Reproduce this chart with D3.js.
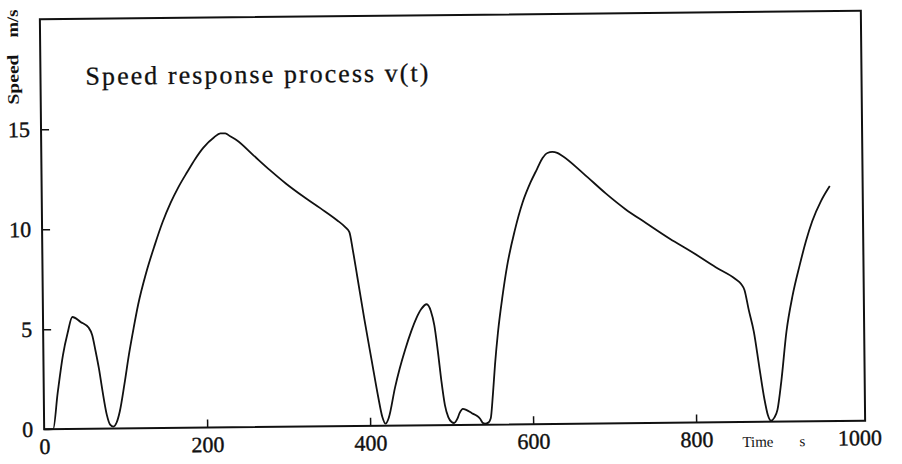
<!DOCTYPE html>
<html>
<head>
<meta charset="utf-8">
<script src="https://cdn.jsdelivr.net/npm/d3@7"></script>
<style>
body{margin:0;background:#fff}
text{font-family:"Liberation Serif","Times New Roman",serif;fill:#111}
</style>
</head>
<body>
<script>
// time (s) and speed (m/s)
var timeS=[0,11,17,24,30,36,46,56,60,64,68,72,77,81,85,89,93,99,105,111,117,127,138,148,158,168,179,189,199,212,220,226,232,240,260,280,300,321,342,362,372,377,381,386,394,403,410,415,419,423,431,437,444,452,458,464,471,476,480,484,488,492,496,500,503,
  507,510,514,518,525,531,535,538,541,545,548,551,554,558,564,570,580,590,600,608,615,621,627,633,639,665,692,716,741,770,798,826,850,857,861,866,872,878,884,888,892,896,900,905,912,920,929,937,945,956,967]
var speedMs=[0,0,1.8,3.7,4.8,5.6,5.35,5.05,4.7,3.9,3.0,1.9,0.7,0.2,0.1,0.3,0.85,2.2,3.7,5.0,6.2,7.75,9.15,10.3,11.25,12.05,12.8,13.45,14.0,14.5,14.7,14.7,14.55,14.35,13.6,12.85,12.15,11.5,10.9,10.3,9.95,9.7,8.8,7.5,5.4,3.2,1.5,0.45,0.1,0.4,1.9,2.85,3.8,4.75,5.35,5.8,6.05,5.7,5.0,3.7,2.2,1.0,0.4,0.15,0.1,
  0.3,0.6,0.8,0.75,0.58,0.45,0.3,0.1,0.05,0.1,0.3,1.5,3.0,4.6,6.4,7.9,9.7,11.1,12.1,12.75,13.3,13.55,13.6,13.55,13.4,12.5,11.5,10.7,10.0,9.2,8.5,7.75,7.15,6.9,6.6,5.6,4.5,2.8,1.15,0.35,0.05,0.2,0.6,2.0,4.5,6.3,7.8,9.0,10.0,11.0,11.75]
var xTicks=[0,200,400,600,800,1000]
var yTicks=[0,5,10,15]
var title="Speed response process v(t)"

var screen={width:902,height:464}
var box={left:42,right:863,top:15,bottom:425}

var svg=d3.select("body").append("svg")
  .attr('width',screen.width)
  .attr('height',screen.height)

// the scan is a little crooked, so tilt everything the same way
var g=svg.append("g").attr("transform","rotate(-0.6,452,220)")

var xScale=d3.scaleLinear().domain([0,1000]).range([box.left,857])
var yScale=d3.scaleLinear().domain([0,20.5]).range([box.bottom,box.top])

g.append("rect")
  .attr("x",box.left).attr("y",box.top)
  .attr("width",box.right-box.left).attr("height",box.bottom-box.top)
  .style("fill","none").style("stroke","#111").style("stroke-width",2)

var xAxis=g.append("g").attr("transform","translate(0,"+box.bottom+")")
  .call(d3.axisBottom(xScale).tickValues(xTicks).tickSize(-8).tickPadding(9).tickFormat(d3.format("d")))
var yAxis=g.append("g").attr("transform","translate("+box.left+",0)")
  .call(d3.axisLeft(yScale).tickValues(yTicks).tickSize(-8).tickPadding(11))

;[xAxis,yAxis].forEach(function(a){
  a.select(".domain").remove()
  a.selectAll("line").style("stroke","#111").style("stroke-width",1.5)
  a.selectAll("text").style("font-family",'"Liberation Serif",serif').style("font-size","22px")
    .style("fill","#111").style("stroke","#111").style("stroke-width",0.4)
})
xAxis.selectAll(".tick").filter(function(d){return d==0||d==1000}).select("line").remove()
yAxis.selectAll(".tick").filter(function(d){return d==0}).select("line").remove()

var line=d3.line()
  .x(function(d,i){return xScale(timeS[i])})
  .y(function(d){return yScale(d)})
  .curve(d3.curveMonotoneX)

g.append("path").datum(speedMs)
  .attr("d",line)
  .style("fill","none").style("stroke","#111").style("stroke-width",1.8)

g.append("text").attr("x",87).attr("y",81)
  .attr("textLength",343).attr("lengthAdjust","spacing")
  .style("font-size","26px").style("stroke","#111").style("stroke-width",0.3).text(title)

g.append("text").attr("x",740).attr("y",450).style("font-size","15px").text("Time")
g.append("text").attr("x",797).attr("y",450).style("font-size","15px").text("s")

g.append("text").attr("transform","translate(20,100) rotate(-90)")
  .attr("textLength",50).attr("lengthAdjust","spacingAndGlyphs")
  .style("font-size","16px").style("font-weight","bold").text("Speed")
g.append("text").attr("transform","translate(20,33) rotate(-90)")
  .attr("textLength",28).attr("lengthAdjust","spacingAndGlyphs")
  .style("font-size","16px").style("font-weight","bold").text("m/s")
</script>
</body>
</html>
